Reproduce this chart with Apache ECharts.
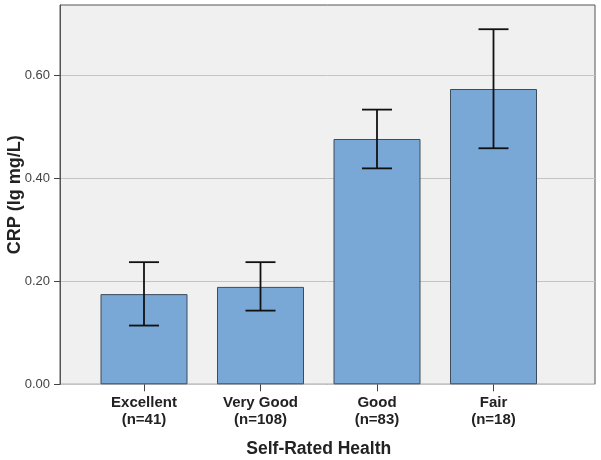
<!DOCTYPE html>
<html><head><meta charset="utf-8">
<script src="https://cdn.jsdelivr.net/npm/echarts@6/dist/echarts.min.js"></script>
<style>html,body{margin:0;padding:0;background:#fff}#c{width:601px;height:460px}</style>
</head><body><div id="c"></div>
<script>
var categories = ['Excellent\n(n=41)', 'Very Good\n(n=108)', 'Good\n(n=83)', 'Fair\n(n=18)'];
var means = [0.175, 0.189, 0.476, 0.573];
var lower = [0.114, 0.143, 0.419, 0.458];
var upper = [0.237, 0.237, 0.533, 0.689];
var yTicks = [0, 0.2, 0.4, 0.6];

var font = 'Liberation Sans, Arial, sans-serif';
var chart = echarts.init(document.getElementById('c'), null, {renderer: 'canvas'});
var yCommon = {type: 'value', min: 0, max: 0.736, interval: 0.2};
chart.setOption({
  animation: false,
  backgroundColor: '#fff',
  grid: [
    {left: 60, top: 5, width: 535, height: 379.3, show: true, backgroundColor: '#f0f0f0', borderColor: '#555', borderWidth: 1, outerBoundsMode: 'none', containLabel: false},
    {left: 85.75, top: 5, width: 466, height: 379.3, outerBoundsMode: 'none', containLabel: false}
  ],
  xAxis: [
    {type: 'value', gridIndex: 0, min: 0, max: 1, show: false},
    {type: 'category', gridIndex: 1, data: categories,
     axisLine: {show: false},
     axisTick: {show: true, alignWithLabel: true, length: 7, lineStyle: {color: '#444', width: 1}},
     axisLabel: {margin: 10, fontFamily: font, fontSize: 15, fontWeight: 'bold', color: '#222', lineHeight: 17},
     name: 'Self-Rated Health', nameLocation: 'middle', nameGap: 56, nameMoveOverlap: false,
     nameTextStyle: {fontFamily: font, fontSize: 17.5, fontWeight: 'bold', color: '#222'}}
  ],
  yAxis: [
    Object.assign({}, yCommon, {gridIndex: 0,
      axisLine: {show: true, lineStyle: {color: '#555', width: 1}},
      axisTick: {show: true, length: 6, lineStyle: {color: '#444', width: 1}, customValues: yTicks},
      axisLabel: {margin: 10, fontFamily: font, fontSize: 13, color: '#444', customValues: yTicks,
        formatter: function (v) { return (+v).toFixed(2); }},
      splitLine: {show: true, lineStyle: {color: '#c4c4c4', width: 1}},
      name: 'CRP (lg mg/L)', nameLocation: 'middle', nameGap: 36, nameMoveOverlap: false,
      nameTextStyle: {fontFamily: font, fontSize: 18, fontWeight: 'bold', color: '#222'}}),
    Object.assign({}, yCommon, {gridIndex: 1, show: false, splitLine: {show: false}})
  ],
  series: [
    {type: 'bar', xAxisIndex: 1, yAxisIndex: 1, data: means, barWidth: 87,
     itemStyle: {color: '#79a7d6', borderColor: '#3e4b5b', borderWidth: 1}, z: 2},
    {type: 'custom', xAxisIndex: 1, yAxisIndex: 1, z: 3,
     data: categories.map(function (c, i) { return [i, lower[i], upper[i]]; }),
     renderItem: function (params, api) {
       var x = api.value(0);
       var lo = api.coord([x, api.value(1)]);
       var hi = api.coord([x, api.value(2)]);
       var half = 15;
       var st = {stroke: '#111', lineWidth: 1.8};
       return {type: 'group', children: [
         {type: 'line', shape: {x1: lo[0], y1: lo[1], x2: hi[0], y2: hi[1]}, style: st},
         {type: 'line', shape: {x1: lo[0] - half, y1: lo[1], x2: lo[0] + half, y2: lo[1]}, style: st},
         {type: 'line', shape: {x1: hi[0] - half, y1: hi[1], x2: hi[0] + half, y2: hi[1]}, style: st}
       ]};
     }}
  ]
});
</script></body></html>
